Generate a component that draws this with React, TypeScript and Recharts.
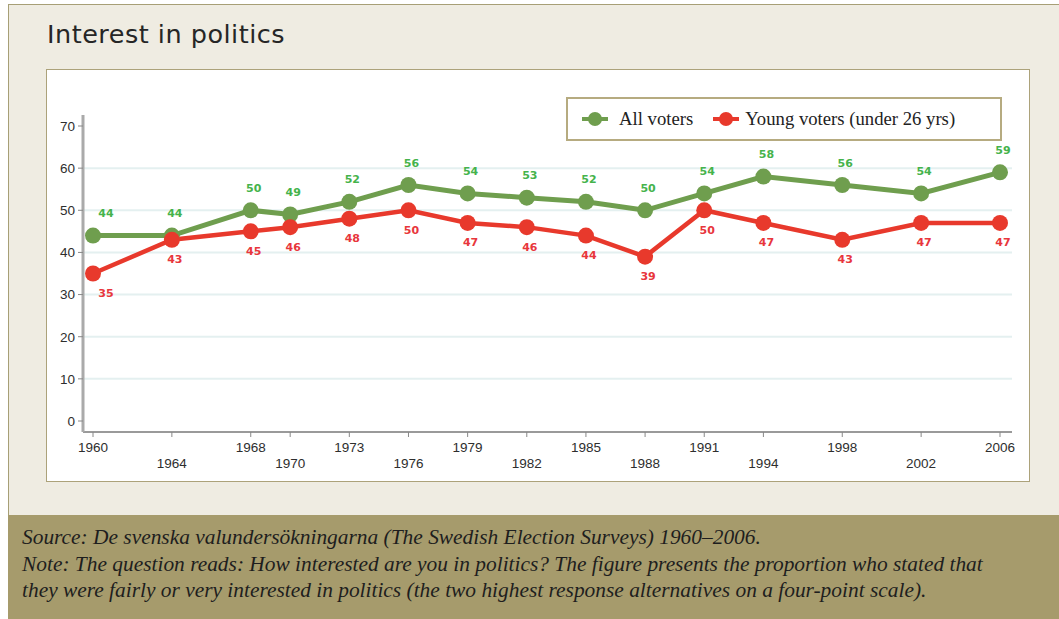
import React from 'react'
import { LineChart, Line, XAxis, YAxis, ReferenceLine, LabelList } from 'recharts'

const years = [1960, 1964, 1968, 1970, 1973, 1976, 1979, 1982, 1985, 1988, 1991, 1994, 1998, 2002, 2006]
const allVoters = [44, 44, 50, 49, 52, 56, 54, 53, 52, 50, 54, 58, 56, 54, 59]
const youngVoters = [35, 43, 45, 46, 48, 50, 47, 46, 44, 39, 50, 47, 43, 47, 47]
// years printed on the first row under the axis; the rest go on the second row
const upperRowYears = [1960, 1968, 1973, 1979, 1985, 1991, 1998, 2006]
const yTicks = [0, 10, 20, 30, 40, 50, 60, 70]
const gridValues = [10, 20, 30, 40, 50, 60]
const seriesNames = ['All voters', 'Young voters (under 26 yrs)']
const noteLines = [
  'Source: De svenska valundersökningarna (The Swedish Election Surveys) 1960–2006.',
  'Note: The question reads: How interested are you in politics? The figure presents the proportion who stated that',
  'they were fairly or very interested in politics (the two highest response alternatives on a four-point scale).',
]

const GREEN = '#6f9e4e'
const RED = '#e8392c'
const GREEN_TEXT = '#45b34c'
const RED_TEXT = '#e8363c'
const SANS = '"Liberation Sans", Arial, sans-serif'
const SERIF = '"Liberation Serif", "Times New Roman", serif'

const data = years.map((year, i) => ({ year, all: allVoters[i], young: youngVoters[i] }))

function YearTick({ x, y, payload }: any) {
  const lower = !upperRowYears.includes(payload.value)
  return (
    <text x={x} y={y + (lower ? 24 : 8)} textAnchor="middle" dominantBaseline="central"
      fill="#2e2e2e" fontSize={13.5} fontFamily={SANS}>
      {payload.value}
    </text>
  )
}

function pointLabel(color: string, dy: number) {
  return (props: any) => {
    const x = props.x ?? props.viewBox?.x
    const y = props.y ?? props.viewBox?.y
    return (
      <text x={x + (props.index === 0 ? 13 : 3)} y={y + dy} textAnchor="middle" dominantBaseline="central"
        fill={color} fontSize={11} fontWeight="bold" fontFamily='"DejaVu Sans", Verdana, sans-serif'>
        {props.value}
      </text>
    )
  }
}

function LegendIcon({ color }: { color: string }) {
  return (
    <svg width={26} height={16} style={{ display: 'block' }}>
      <line x1={0} y1={8} x2={26} y2={8} stroke={color} strokeWidth={4} />
      <circle cx={13} cy={8} r={7} fill={color} />
    </svg>
  )
}

export default function App() {
  const colors = [GREEN, RED]
  return (
    <div style={{ position: 'absolute', left: 0, top: 0, width: 1059, height: 619, overflow: 'hidden', background: '#fff' }}>
      <div style={{ position: 'absolute', left: 8, top: 4, width: 1060, height: 620, background: '#efece2',
        borderTop: '1px solid #a79f76', borderLeft: '1px solid #a79f76' }} />
      <div style={{ position: 'absolute', left: 47, top: 18, fontFamily: '"DejaVu Sans", Verdana, sans-serif',
        fontSize: 25.5, letterSpacing: 0.5, color: '#262626', lineHeight: '32px', whiteSpace: 'nowrap' }}>
        Interest in politics
      </div>
      <div style={{ position: 'absolute', left: 46, top: 69, width: 982, height: 411, background: '#fff',
        border: '1.5px solid #aca27a' }} />
      <div style={{ position: 'absolute', left: 47, top: 70 }}>
        <LineChart width={983} height={412} data={data} margin={{ top: 45, right: 18, bottom: 10, left: 0 }}>
          {gridValues.map((v) => (
            <ReferenceLine key={v} y={v} stroke="#e4f0f0" strokeWidth={2} />
          ))}
          <XAxis dataKey="year" type="number" domain={[1960, 2006]} ticks={years} interval={0}
            padding={{ left: 10, right: 12 }} height={40} tick={<YearTick />} tickSize={5}
            axisLine={{ stroke: '#9a9a9a', strokeWidth: 2 }} tickLine={{ stroke: '#888' }} />
          <YAxis type="number" domain={[0, 70]} ticks={yTicks} width={36} padding={{ top: 11, bottom: 11 }}
            tickSize={5} tickMargin={3} tick={{ fill: '#2e2e2e', fontSize: 13.5, fontFamily: SANS }}
            axisLine={{ stroke: '#aaa', strokeWidth: 3 }} tickLine={{ stroke: '#888' }} />
          <Line dataKey="all" name={seriesNames[0]} stroke={GREEN} strokeWidth={5} isAnimationActive={false}
            dot={{ r: 8, fill: GREEN, stroke: 'none' }} activeDot={false}>
            <LabelList dataKey="all" content={pointLabel(GREEN_TEXT, -22)} />
          </Line>
          <Line dataKey="young" name={seriesNames[1]} stroke={RED} strokeWidth={4.5} isAnimationActive={false}
            dot={{ r: 8, fill: RED, stroke: 'none' }} activeDot={false}>
            <LabelList dataKey="young" content={pointLabel(RED_TEXT, 20)} />
          </Line>
        </LineChart>
      </div>
      <div style={{ position: 'absolute', left: 566, top: 97, width: 432, height: 40, border: '2px solid #b6ab80',
        background: '#fff', display: 'flex', alignItems: 'center', fontFamily: SERIF, fontSize: 18.7, color: '#222' }}>
        {seriesNames.map((name, i) => (
          <div key={name} style={{ display: 'flex', alignItems: 'center', marginLeft: i === 0 ? 14 : 20 }}>
            <LegendIcon color={colors[i]} />
            <span style={{ marginLeft: i === 0 ? 11 : 6 }}>{name}</span>
          </div>
        ))}
      </div>
      <div style={{ position: 'absolute', left: 8, top: 515, width: 1060, height: 110, background: '#a69b6c' }} />
      <div style={{ position: 'absolute', left: 22, top: 524, fontFamily: SERIF, fontStyle: 'italic', fontSize: 21.4,
        lineHeight: '26.5px', color: '#1e1e1e', whiteSpace: 'nowrap' }}>
        {noteLines.map((line) => (
          <div key={line}>{line}</div>
        ))}
      </div>
    </div>
  )
}
